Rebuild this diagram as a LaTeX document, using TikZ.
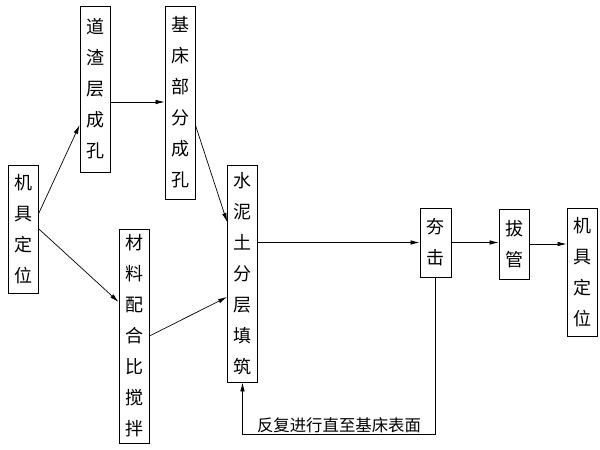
\documentclass[tikz,border=0pt]{standalone}
\usepackage{fontspec}
\setmainfont{Noto Sans CJK SC}
\usetikzlibrary{calc,arrows.meta}
\begin{document}
\begin{tikzpicture}[x=1pt,y=-1pt,
  box/.style={draw, line width=0.8pt, minimum width=30pt, inner sep=0pt, align=center,
    font=\fontsize{18}{31}\selectfont},
  arr/.style={line width=0.7pt, -{Latex[length=9pt,width=4.5pt]}},
  lbl/.style={font=\fontsize{16.4}{18}\selectfont, inner sep=1pt}]
\useasboundingbox (0,0) rectangle (600,450);
\fill[white] (0,0) rectangle (600,450);
\node[box, minimum height=128pt] (m1) at (23.5,229) {机\\具\\定\\位};
\node[box, minimum height=166pt] (dz) at (95,89) {道\\渣\\层\\成\\孔};
\node[box, minimum height=193pt] (jc) at (180,102.5) {基\\床\\部\\分\\成\\孔};
\node[box, minimum height=217pt] (sn) at (242.5,273.5) {水\\泥\\土\\分\\层\\填\\筑};
\node[box, minimum height=214pt] (cl) at (134,336) {材\\料\\配\\合\\比\\搅\\拌};
\node[box, minimum height=69pt, minimum width=31pt] (hj) at (435.5,242.5) {夯\\击};
\node[box, minimum height=70pt] (bg) at (514,244) {拔\\管};
\node[box, minimum height=128pt] (m2) at (582,272) {机\\具\\定\\位};
\draw[arr] ($(m1.east)+(0,-16)$) -- ($(dz.west)+(0,36)$);
\draw[arr] (m1.east) -- ($(cl.west)+(0,-34)$);
\coordinate (p1) at ($(dz.east)+(0,13)$);
\draw[arr] (p1) -- (p1 -| jc.west);
\draw[arr] ($(jc.east)+(0,22.5)$) -- ($(sn.west)+(0,-51.5)$);
\draw[arr] (cl.east) -- ($(sn.west)+(0,23.5)$);
\draw[arr] (sn.east |- hj.west) -- (hj.west);
\draw[arr] (hj.east) -- (hj.east -| bg.west);
\draw[arr] (bg.east) -- (bg.east -| m2.west);
\draw[arr] (hj.south) -- (hj.south |- 0,434) -- node[lbl, above] {反复进行直至基床表面} (sn.south |- 0,434) -- (sn.south);
\end{tikzpicture}
\end{document}
